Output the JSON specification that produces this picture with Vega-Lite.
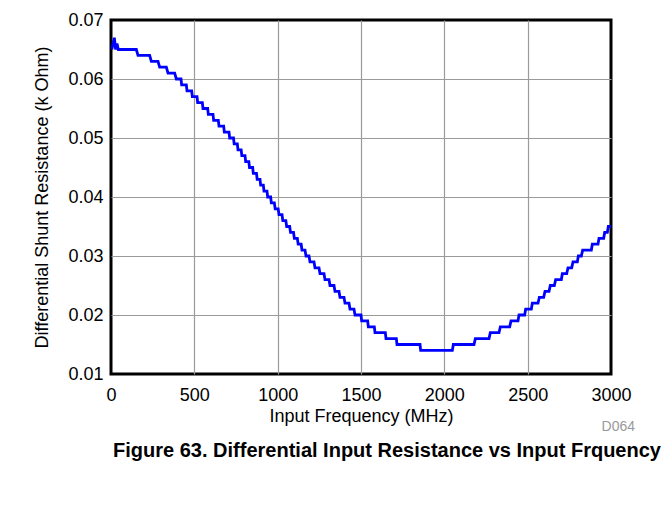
{
  "$schema": "https://vega.github.io/schema/vega-lite/v6.json",
  "width": 500,
  "height": 354,
  "autosize": {"type": "none"},
  "padding": {"left": 111, "top": 20, "right": 60, "bottom": 132},
  "background": "white",
  "config": {
    "font": "Liberation Sans",
    "view": {"stroke": "black", "strokeWidth": 3},
    "axis": {
      "domain": false,
      "ticks": false,
      "grid": true,
      "labelFlush": false,
      "gridColor": "#9a9a9a",
      "gridWidth": 1.2,
      "labelFont": "Liberation Sans",
      "labelFontSize": 18,
      "labelColor": "black",
      "titleFont": "Liberation Sans",
      "titleFontSize": 18,
      "titleFontWeight": "normal",
      "titleColor": "black"
    }
  },
  "title": {
    "text": "Figure 63. Differential Input Resistance vs Input Frquency",
    "orient": "bottom",
    "anchor": "middle",
    "frame": "group",
    "font": "Liberation Sans",
    "fontSize": 20,
    "fontWeight": "bold",
    "color": "black",
    "offset": 7,
    "dx": 26
  },
  "data": {
    "values": [
      {"f": 5, "r": 0.065}, {"f": 20, "r": 0.067}, {"f": 28, "r": 0.065}, {"f": 36, "r": 0.066}, {"f": 44, "r": 0.065}, {"f": 152, "r": 0.065},
      {"f": 162, "r": 0.064}, {"f": 232, "r": 0.064},
      {"f": 242, "r": 0.063}, {"f": 282, "r": 0.063},
      {"f": 292, "r": 0.062}, {"f": 332, "r": 0.062},
      {"f": 342, "r": 0.061}, {"f": 382, "r": 0.061},
      {"f": 392, "r": 0.060}, {"f": 420, "r": 0.060},
      {"f": 424, "r": 0.059}, {"f": 452, "r": 0.059},
      {"f": 456, "r": 0.058}, {"f": 484, "r": 0.058},
      {"f": 488, "r": 0.057}, {"f": 516, "r": 0.057},
      {"f": 520, "r": 0.056}, {"f": 548, "r": 0.056},
      {"f": 552, "r": 0.055}, {"f": 580, "r": 0.055},
      {"f": 584, "r": 0.054}, {"f": 612, "r": 0.054},
      {"f": 616, "r": 0.053}, {"f": 644, "r": 0.053},
      {"f": 648, "r": 0.052}, {"f": 676, "r": 0.052},
      {"f": 680, "r": 0.051}, {"f": 708, "r": 0.051},
      {"f": 712, "r": 0.050}, {"f": 735, "r": 0.050},
      {"f": 739, "r": 0.049}, {"f": 758, "r": 0.049},
      {"f": 762, "r": 0.048}, {"f": 781, "r": 0.048},
      {"f": 785, "r": 0.047}, {"f": 804, "r": 0.047},
      {"f": 808, "r": 0.046}, {"f": 827, "r": 0.046},
      {"f": 831, "r": 0.045}, {"f": 850, "r": 0.045},
      {"f": 854, "r": 0.044}, {"f": 873, "r": 0.044},
      {"f": 877, "r": 0.043}, {"f": 894, "r": 0.043},
      {"f": 898, "r": 0.042}, {"f": 914, "r": 0.042},
      {"f": 918, "r": 0.041}, {"f": 936, "r": 0.041},
      {"f": 940, "r": 0.040}, {"f": 958, "r": 0.040},
      {"f": 962, "r": 0.039}, {"f": 980, "r": 0.039},
      {"f": 985, "r": 0.038}, {"f": 1003, "r": 0.038},
      {"f": 1008, "r": 0.037}, {"f": 1026, "r": 0.037},
      {"f": 1031, "r": 0.036}, {"f": 1049, "r": 0.036},
      {"f": 1054, "r": 0.035}, {"f": 1072, "r": 0.035},
      {"f": 1077, "r": 0.034}, {"f": 1095, "r": 0.034},
      {"f": 1100, "r": 0.033}, {"f": 1118, "r": 0.033},
      {"f": 1123, "r": 0.032}, {"f": 1141, "r": 0.032},
      {"f": 1146, "r": 0.031}, {"f": 1164, "r": 0.031},
      {"f": 1170, "r": 0.030}, {"f": 1188, "r": 0.030},
      {"f": 1194, "r": 0.029}, {"f": 1218, "r": 0.029},
      {"f": 1224, "r": 0.028}, {"f": 1248, "r": 0.028},
      {"f": 1254, "r": 0.027}, {"f": 1278, "r": 0.027},
      {"f": 1284, "r": 0.026}, {"f": 1308, "r": 0.026},
      {"f": 1314, "r": 0.025}, {"f": 1338, "r": 0.025},
      {"f": 1344, "r": 0.024}, {"f": 1368, "r": 0.024},
      {"f": 1374, "r": 0.023}, {"f": 1398, "r": 0.023},
      {"f": 1404, "r": 0.022}, {"f": 1428, "r": 0.022},
      {"f": 1434, "r": 0.021}, {"f": 1458, "r": 0.021},
      {"f": 1464, "r": 0.020}, {"f": 1500, "r": 0.020},
      {"f": 1504, "r": 0.019}, {"f": 1540, "r": 0.019},
      {"f": 1544, "r": 0.018}, {"f": 1580, "r": 0.018},
      {"f": 1584, "r": 0.017}, {"f": 1646, "r": 0.017},
      {"f": 1650, "r": 0.016}, {"f": 1712, "r": 0.016},
      {"f": 1716, "r": 0.015}, {"f": 1854, "r": 0.015},
      {"f": 1858, "r": 0.014}, {"f": 2048, "r": 0.014},
      {"f": 2054, "r": 0.015}, {"f": 2178, "r": 0.015},
      {"f": 2186, "r": 0.016}, {"f": 2268, "r": 0.016},
      {"f": 2276, "r": 0.017}, {"f": 2328, "r": 0.017},
      {"f": 2336, "r": 0.018}, {"f": 2392, "r": 0.018},
      {"f": 2400, "r": 0.019}, {"f": 2442, "r": 0.019},
      {"f": 2448, "r": 0.020}, {"f": 2482, "r": 0.020},
      {"f": 2488, "r": 0.021}, {"f": 2522, "r": 0.021},
      {"f": 2528, "r": 0.022}, {"f": 2562, "r": 0.022},
      {"f": 2570, "r": 0.023}, {"f": 2596, "r": 0.023},
      {"f": 2604, "r": 0.024}, {"f": 2628, "r": 0.024},
      {"f": 2636, "r": 0.025}, {"f": 2660, "r": 0.025},
      {"f": 2668, "r": 0.026}, {"f": 2702, "r": 0.026},
      {"f": 2708, "r": 0.027}, {"f": 2734, "r": 0.027},
      {"f": 2742, "r": 0.028}, {"f": 2764, "r": 0.028},
      {"f": 2772, "r": 0.029}, {"f": 2798, "r": 0.029},
      {"f": 2804, "r": 0.030}, {"f": 2822, "r": 0.030},
      {"f": 2830, "r": 0.031}, {"f": 2882, "r": 0.031},
      {"f": 2888, "r": 0.032}, {"f": 2922, "r": 0.032},
      {"f": 2928, "r": 0.033}, {"f": 2956, "r": 0.033},
      {"f": 2962, "r": 0.034}, {"f": 2978, "r": 0.034},
      {"f": 2984, "r": 0.035}, {"f": 3000, "r": 0.035}
    ]
  },
  "layer": [
    {
      "mark": {"type": "line", "color": "#0000ff", "strokeWidth": 2.8, "clip": true},
      "encoding": {
        "x": {
          "field": "f",
          "type": "quantitative",
          "scale": {"domain": [0, 3000], "nice": false, "zero": false},
          "axis": {
            "values": [0, 500, 1000, 1500, 2000, 2500, 3000],
            "format": "d",
            "labelPadding": 12,
            "title": "Input Frequency (MHz)",
            "titlePadding": 3,
            "gridOpacity": {"condition": {"test": "datum.value <= 0 || datum.value >= 3000", "value": 0}, "value": 1}
          }
        },
        "y": {
          "field": "r",
          "type": "quantitative",
          "scale": {"domain": [0.01, 0.07], "nice": false, "zero": false},
          "axis": {
            "values": [0.01, 0.02, 0.03, 0.04, 0.05, 0.06, 0.07],
            "format": ".2f",
            "labelPadding": 8,
            "title": "Differential Shunt Resistance (k Ohm)",
            "titlePadding": 16,
            "gridOpacity": {"condition": {"test": "datum.value <= 0.0101 || datum.value >= 0.0699", "value": 0}, "value": 1}
          }
        }
      }
    },
    {
      "data": {"values": [{"label": "D064", "f": 3000, "r": 0.01}]},
      "mark": {"type": "text", "align": "right", "baseline": "middle", "dy": 53, "dx": 24, "fontSize": 14, "color": "#999999", "font": "Liberation Sans"},
      "encoding": {
        "x": {"field": "f", "type": "quantitative"},
        "y": {"field": "r", "type": "quantitative"},
        "text": {"field": "label"}
      }
    }
  ]
}
